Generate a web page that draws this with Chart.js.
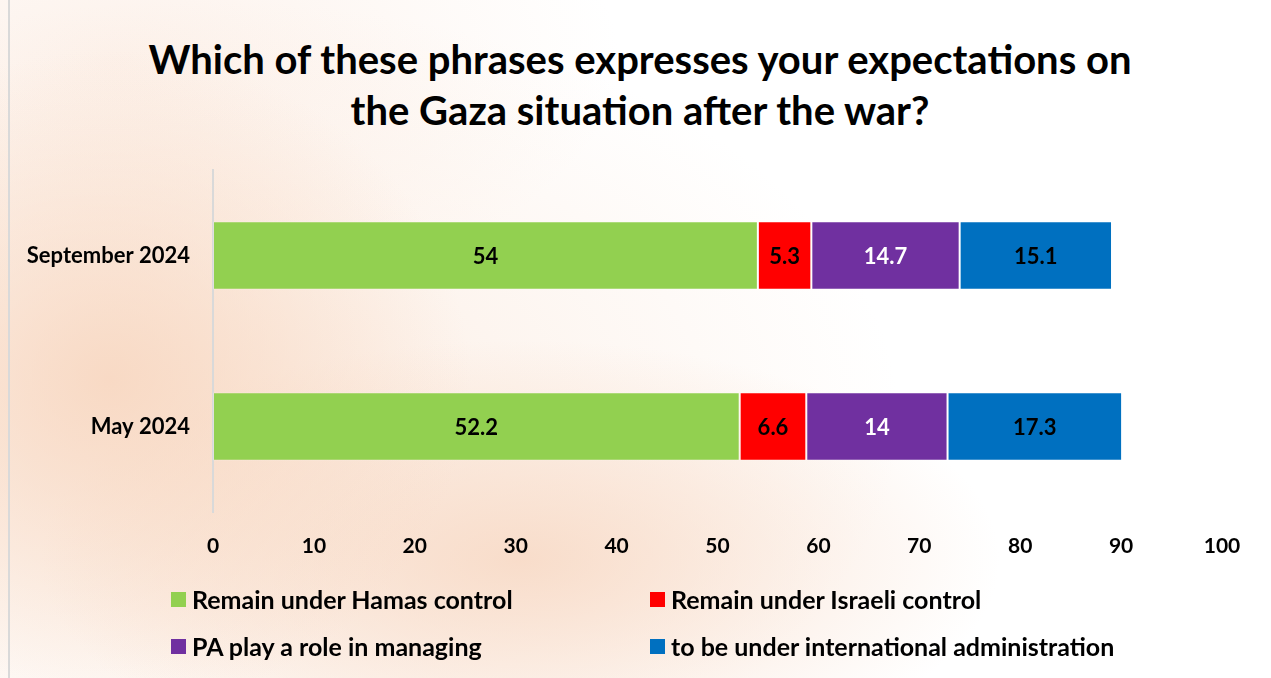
<!DOCTYPE html>
<html lang="en">
<head>
    <meta charset="UTF-8">
    <title>Gaza expectations after the war</title>
    <script src="https://cdn.jsdelivr.net/npm/chart.js"></script>
    <style>
        body, html {
            margin: 0;
            padding: 0;
            width: 1271px;
            height: 678px;
            overflow: hidden;
            font-family: 'Lato', sans-serif;
            background:
                radial-gradient(ellipse 360px 330px at 110px 380px, rgba(247,212,188,0.8), rgba(247,212,188,0) 100%),
                radial-gradient(ellipse 480px 220px at 520px 560px, rgba(247,214,192,0.8), rgba(247,214,192,0) 100%),
                radial-gradient(ellipse 700px 420px at 200px 420px, rgba(249,224,206,0.6), rgba(249,224,206,0) 100%),
                radial-gradient(ellipse 500px 250px at 120px 60px, rgba(250,228,214,0.5), rgba(250,228,214,0) 100%),
                #fff;
        }
        .frame {
            position: absolute;
            left: 8px;
            top: 0;
            width: 1263px;
            height: 678px;
            border-left: 2px solid #d9d9d9;
        }
        .title {
            position: absolute;
            left: 0;
            top: 34px;
            width: 1280px;
            text-align: center;
            font-weight: 700;
            font-size: 40px;
            line-height: 51px;
            color: #000;
        }
        #chartBox {
            position: absolute;
            left: 0;
            top: 0;
            width: 1271px;
            height: 570px;
        }
        .legend {
            position: absolute;
            left: 0;
            top: 0;
            width: 1271px;
            height: 678px;
        }
        .legend-item {
            position: absolute;
            display: flex;
            align-items: center;
            gap: 6px;
            font-weight: 700;
            font-size: 25px;
            color: #000;
            white-space: nowrap;
        }
        .legend-box {
            width: 15px;
            height: 15px;
            display: inline-block;
        }
    </style>
</head>
<body>
    <div class="frame"></div>
    <div class="title">Which of these phrases expresses your expectations on<br>the Gaza situation after the war?</div>
    <div id="chartBox"><canvas id="gazaChart" width="1271" height="570"></canvas></div>
    <div class="legend" id="legend"></div>
    <script>
      // survey data
      const categories = ['September 2024', 'May 2024'];
      const seriesNames = [
        'Remain under Hamas control',
        'Remain under Israeli control',
        'PA play a role in managing',
        'to be under international administration'
      ];
      const hamas = [54, 52.2];
      const israeli = [5.3, 6.6];
      const paRole = [14.7, 14];
      const international = [15.1, 17.3];
      const xTicks = [0, 10, 20, 30, 40, 50, 60, 70, 80, 90, 100];

      const colors = ['#92d050', '#ff0000', '#7030a0', '#0070c0'];
      const labelColors = ['#000', '#000', '#fff', '#000'];
      const values = [hamas, israeli, paRole, international];

      const datasets = values.map((vals, i) => ({
        label: seriesNames[i],
        data: vals,
        backgroundColor: colors[i],
        borderColor: 'rgba(255,255,255,0.18)',
        borderWidth: 1,
        borderSkipped: false,
        barPercentage: 0.4,
        categoryPercentage: 1.0
      }));

      // draws the numbers inside each segment
      const segmentLabels = {
        id: 'segmentLabels',
        afterDatasetsDraw(chart) {
          const c = chart.ctx;
          c.save();
          c.font = 'bold 22px Lato';
          c.textAlign = 'center';
          c.textBaseline = 'middle';
          chart.data.datasets.forEach((ds, i) => {
            const meta = chart.getDatasetMeta(i);
            meta.data.forEach((bar, j) => {
              const x = (bar.x + bar.base) / 2;
              c.fillStyle = labelColors[i];
              c.fillText(String(ds.data[j]), x, bar.y + 1);
            });
          });
          c.restore();
        }
      };

      const ctx = document.getElementById('gazaChart').getContext('2d');
      new Chart(ctx, {
        type: 'bar',
        data: { labels: categories, datasets: datasets },
        plugins: [segmentLabels],
        options: {
          responsive: false,
          animation: false,
          indexAxis: 'y',
          layout: { padding: { left: 0, right: 49, top: 170, bottom: 0 } },
          plugins: {
            legend: { display: false },
            tooltip: { enabled: false },
            title: { display: false }
          },
          scales: {
            x: {
              stacked: true,
              min: 0,
              max: 100,
              afterBuildTicks(scale) {
                scale.ticks = xTicks.map(v => ({ value: v }));
              },
              afterFit(scale) { scale.height = 58; },
              grid: { display: false, drawTicks: false },
              border: { display: false },
              ticks: {
                color: '#000',
                padding: 22,
                font: { family: 'Lato', size: 21, weight: 'bold' }
              }
            },
            y: {
              stacked: true,
              afterFit(scale) { scale.width = 213; },
              grid: { display: false, drawTicks: false },
              border: { display: true, color: '#d9d9d9', width: 2 },
              ticks: {
                color: '#000',
                padding: 23,
                font: { family: 'Lato', size: 22, weight: 'bold' }
              }
            }
          }
        }
      });

      // html legend, two columns
      const legendPos = [[171, 600], [650, 600], [171, 647], [650, 647]];
      const legend = document.getElementById('legend');
      seriesNames.forEach((name, i) => {
        const item = document.createElement('div');
        item.className = 'legend-item';
        item.style.left = legendPos[i][0] + 'px';
        item.style.top = (legendPos[i][1] - 16) + 'px';
        item.innerHTML = '<span class="legend-box" style="background:' + colors[i] + '"></span>' + name;
        legend.appendChild(item);
      });
    </script>
</body>
</html>
